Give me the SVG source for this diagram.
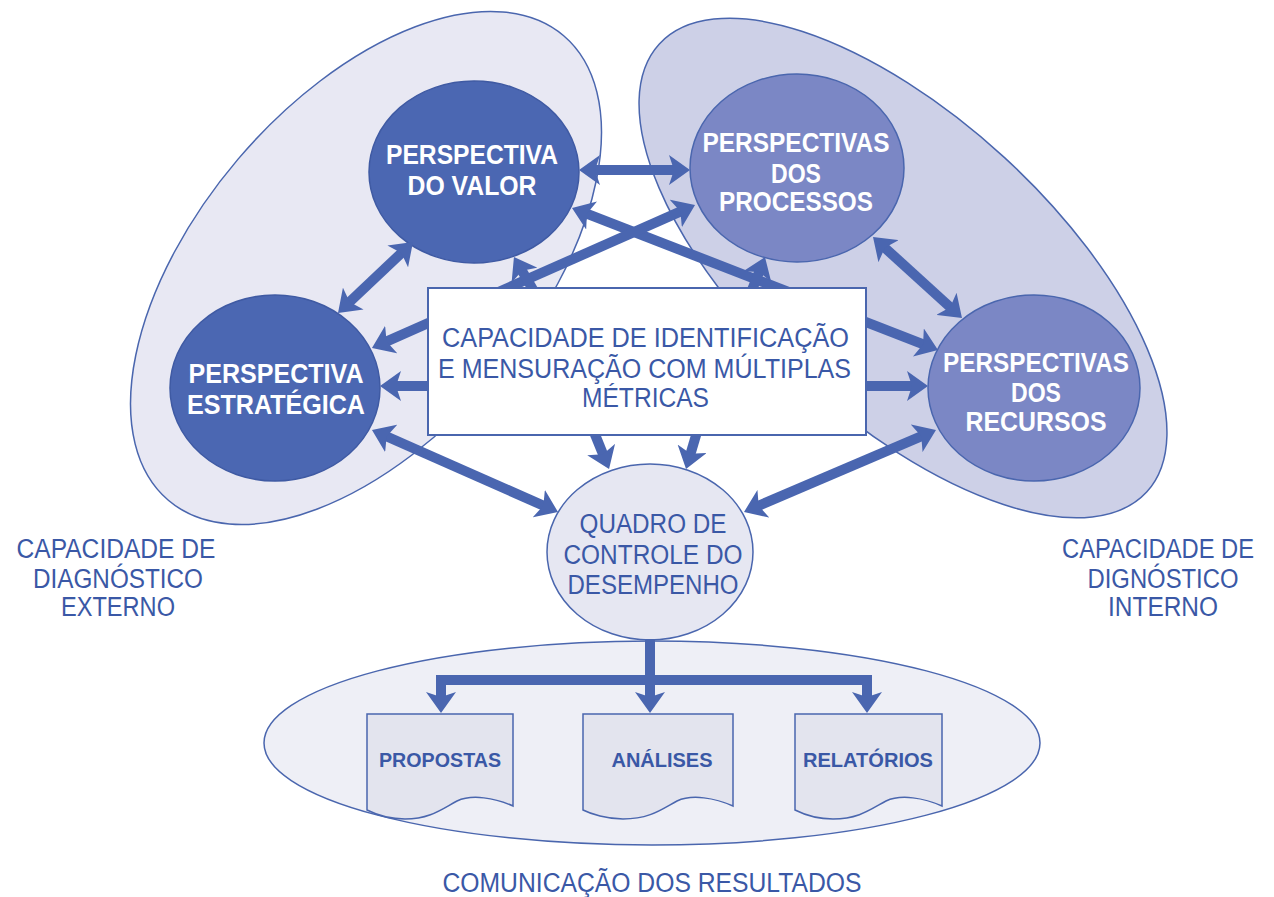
<svg xmlns="http://www.w3.org/2000/svg" width="1274" height="897" viewBox="0 0 1274 897">
<defs>
<style>
.bg{stroke:#4a66ae;stroke-width:1.5}
.dark{fill:#4b67b2;stroke:#3f5aa3;stroke-width:1.5}
.mid{fill:#7b87c5;stroke:#4a66ae;stroke-width:1.5}
.wt{font-family:"Liberation Sans",Arial,sans-serif;font-weight:bold;font-size:27px;fill:#ffffff;text-anchor:middle}
.bt{font-family:"Liberation Sans",Arial,sans-serif;font-size:27px;fill:#3a58a6;text-anchor:middle}
.dt{font-family:"Liberation Sans",Arial,sans-serif;font-weight:bold;font-size:20px;fill:#3a58a6;text-anchor:middle}
.arr{fill:none;stroke:#4a66b0;stroke-width:10;stroke-linejoin:miter}
.doc{fill:#e3e4ee;stroke:#4a66ae;stroke-width:1.5}
</style>
<marker id="ah" markerUnits="strokeWidth" viewBox="0 -1.5 2.1 3" markerWidth="2.1" markerHeight="3" refX="0.6" refY="0" orient="auto-start-reverse">
<path d="M0,-1.5 L2.1,0 L0,1.5 L0.5,0 Z" fill="#4a66b0"/>
</marker>
</defs>
<rect width="1274" height="897" fill="#ffffff"/>

<g id="externo-area">
<ellipse class="bg" fill="#e8e8f3" cx="0" cy="0" rx="305" ry="168" transform="translate(366,268) rotate(-49.6)"/>
</g>
<g id="interno-area">
<ellipse class="bg" fill="#cdd0e7" cx="0" cy="0" rx="331" ry="150" transform="translate(903,268) rotate(42.6)"/>
</g>
<g id="comunicacao-area">
<ellipse class="bg" fill="#eeeff6" cx="652" cy="743" rx="388" ry="102"/>
</g>

<g id="valor">
<ellipse class="dark" cx="474" cy="172" rx="105" ry="91"/>
<text class="wt"><tspan x="472" y="164" textLength="172" lengthAdjust="spacingAndGlyphs">PERSPECTIVA</tspan><tspan x="472" y="195" textLength="129" lengthAdjust="spacingAndGlyphs">DO VALOR</tspan></text>
</g>
<g id="estrategica">
<ellipse class="dark" cx="275" cy="388" rx="105" ry="93"/>
<text class="wt"><tspan x="276" y="383" textLength="175" lengthAdjust="spacingAndGlyphs">PERSPECTIVA</tspan><tspan x="276" y="414" textLength="178" lengthAdjust="spacingAndGlyphs">ESTRATÉGICA</tspan></text>
</g>
<g id="processos">
<ellipse class="mid" cx="797" cy="168" rx="107" ry="94"/>
<text class="wt"><tspan x="796" y="152" textLength="187" lengthAdjust="spacingAndGlyphs">PERSPECTIVAS</tspan><tspan x="796" y="183" textLength="50" lengthAdjust="spacingAndGlyphs">DOS</tspan><tspan x="796" y="211" textLength="154" lengthAdjust="spacingAndGlyphs">PROCESSOS</tspan></text>
</g>
<g id="recursos">
<ellipse class="mid" cx="1034" cy="388" rx="106" ry="93"/>
<text class="wt"><tspan x="1036" y="372" textLength="186" lengthAdjust="spacingAndGlyphs">PERSPECTIVAS</tspan><tspan x="1036" y="402" textLength="50" lengthAdjust="spacingAndGlyphs">DOS</tspan><tspan x="1036" y="431" textLength="141" lengthAdjust="spacingAndGlyphs">RECURSOS</tspan></text>
</g>
<g id="quadro">
<ellipse cx="650" cy="552" rx="103" ry="88" fill="#e6e7f2" stroke="#4a66ae" stroke-width="1.5"/>
<text class="bt"><tspan x="653" y="533" textLength="147" lengthAdjust="spacingAndGlyphs">QUADRO DE</tspan><tspan x="653" y="564" textLength="179" lengthAdjust="spacingAndGlyphs">CONTROLE DO</tspan><tspan x="653" y="594" textLength="171" lengthAdjust="spacingAndGlyphs">DESEMPENHO</tspan></text>
</g>
<g id="propostas">
<path class="doc" transform="translate(367,714)" d="M0,0 H146 V92 C128,84 105,80 90,87 C75,95 63,105 38,105 C23,105 8,100 0,96 Z"/>
<text class="dt" x="440" y="767" textLength="122" lengthAdjust="spacingAndGlyphs">PROPOSTAS</text>
</g>
<g id="analises">
<path class="doc" transform="translate(583,714)" d="M0,0 H150 V92 C132,84 109,80 94,87 C79,95 67,105 40,105 C24,105 8,100 0,96 Z"/>
<text class="dt" x="662" y="767" textLength="101" lengthAdjust="spacingAndGlyphs">ANÁLISES</text>
</g>
<g id="relatorios">
<path class="doc" transform="translate(795,714)" d="M0,0 H147 V92 C129,84 106,80 91,87 C76,95 64,105 38,105 C23,105 8,100 0,96 Z"/>
<text class="dt" x="868" y="767" textLength="130" lengthAdjust="spacingAndGlyphs">RELATÓRIOS</text>
</g>

<g id="connectors">
<line class="arr" x1="594" y1="170" x2="675" y2="170" marker-start="url(#ah)" marker-end="url(#ah)"/>
<line class="arr" x1="402.1" y1="252.3" x2="348.9" y2="302.7" marker-start="url(#ah)" marker-end="url(#ah)"/>
<line class="arr" x1="884.1" y1="247.1" x2="950.9" y2="307.9" marker-start="url(#ah)" marker-end="url(#ah)"/>
<line class="arr" x1="385.7" y1="436" x2="544.3" y2="506" marker-start="url(#ah)" marker-end="url(#ah)"/>
<line class="arr" x1="922.2" y1="435.9" x2="757.8" y2="506.1" marker-start="url(#ah)" marker-end="url(#ah)"/>
<line class="arr" x1="586" y1="213.4" x2="924" y2="344.6" marker-start="url(#ah)" marker-end="url(#ah)"/>
<line class="arr" x1="385.7" y1="341.9" x2="681.3" y2="211.1" marker-start="url(#ah)" marker-end="url(#ah)"/>
<line class="arr" x1="534.1" y1="291.6" x2="521.5" y2="270" marker-end="url(#ah)"/>
<line class="arr" x1="750.4" y1="294.2" x2="759.5" y2="271" marker-end="url(#ah)"/>
<line class="arr" x1="434" y1="386" x2="395" y2="386" marker-end="url(#ah)"/>
<line class="arr" x1="860" y1="386" x2="913" y2="386" marker-end="url(#ah)"/>
<line class="arr" x1="594" y1="432" x2="603.4" y2="455.1" marker-end="url(#ah)"/>
<line class="arr" x1="697.4" y1="430.6" x2="690.3" y2="454.6" marker-end="url(#ah)"/>
<path class="arr" d="M650,639 V680 H441 V698" marker-end="url(#ah)"/>
<path class="arr" d="M650,680 H867 V698" marker-end="url(#ah)"/>
<path class="arr" d="M650,675 V698" marker-end="url(#ah)"/>
</g>

<g id="capacidade-box">
<rect x="428" y="288" width="438" height="147" fill="#ffffff" stroke="#4a66ae" stroke-width="2"/>
<text class="bt"><tspan x="645.5" y="347" textLength="407" lengthAdjust="spacingAndGlyphs">CAPACIDADE DE IDENTIFICAÇÃO</tspan><tspan x="644.5" y="378" textLength="413" lengthAdjust="spacingAndGlyphs">E MENSURAÇÃO COM MÚLTIPLAS</tspan><tspan x="645.5" y="407" textLength="127" lengthAdjust="spacingAndGlyphs">MÉTRICAS</tspan></text>
</g>

<g id="label-externo">
<text class="bt" font-size="25"><tspan x="116" y="558" textLength="199" lengthAdjust="spacingAndGlyphs">CAPACIDADE DE</tspan><tspan x="118" y="588" textLength="170" lengthAdjust="spacingAndGlyphs">DIAGNÓSTICO</tspan><tspan x="118" y="616" textLength="114" lengthAdjust="spacingAndGlyphs">EXTERNO</tspan></text>
</g>
<g id="label-interno">
<text class="bt" font-size="24" x="1158" y="558" textLength="192" lengthAdjust="spacingAndGlyphs">CAPACIDADE DE</text>
<text class="bt" font-size="25" x="1163" y="588" textLength="151" lengthAdjust="spacingAndGlyphs">DIGNÓSTICO</text>
<text class="bt" font-size="25" x="1163" y="616" textLength="110" lengthAdjust="spacingAndGlyphs">INTERNO</text>
</g>
<g id="label-comunicacao">
<text class="bt" font-size="25" x="652" y="892" textLength="419" lengthAdjust="spacingAndGlyphs">COMUNICAÇÃO DOS RESULTADOS</text>
</g>
</svg>
